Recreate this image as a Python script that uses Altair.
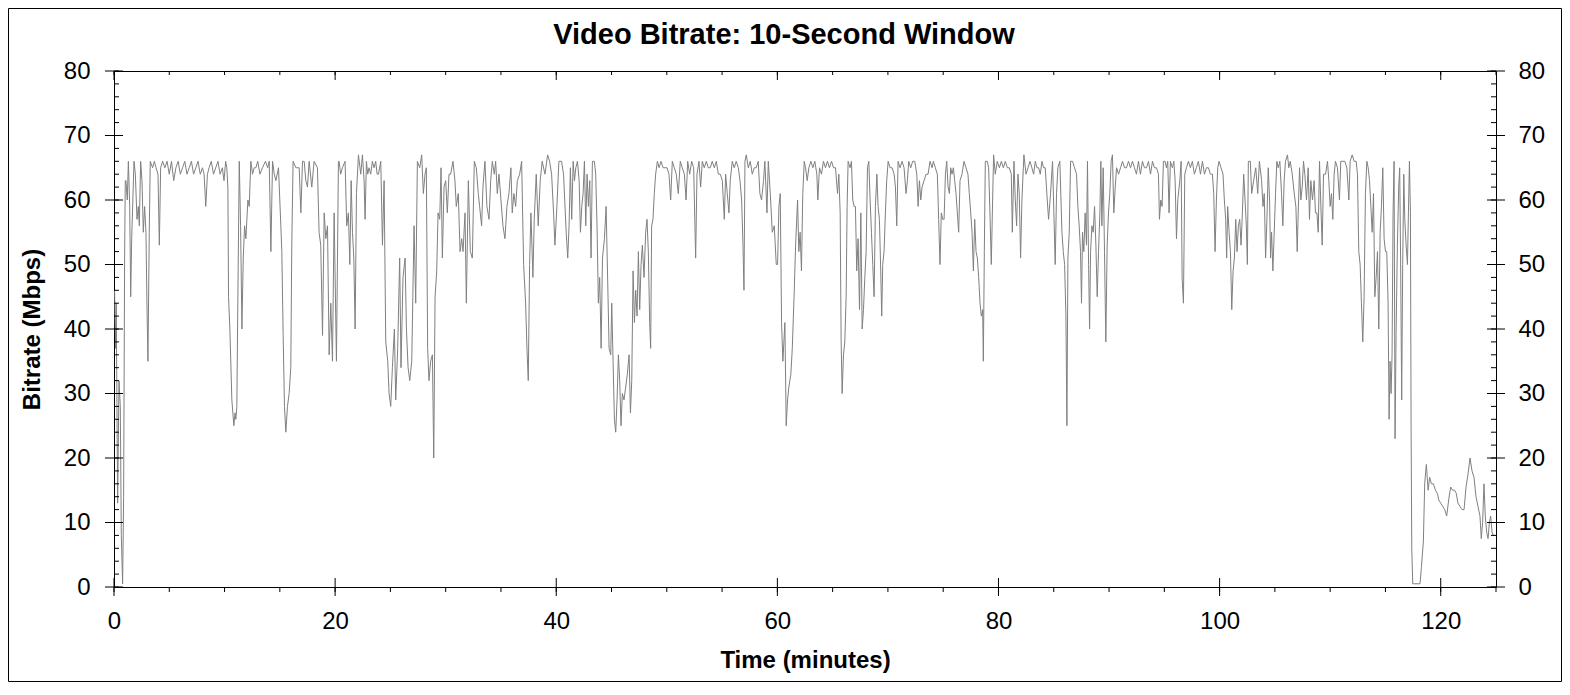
import altair as alt
import pandas as pd

# time in minutes, bitrate in Mbps (10-second window)
minutes = [
    0.05, 0.15, 0.2, 0.33, 0.45, 0.57, 0.66, 0.78, 0.87, 0.96, 1.02, 1.08, 1.2, 1.3, 1.42, 1.51, 1.6, 1.81, 1.93,
    2.08, 2.2, 2.29, 2.41, 2.53, 2.65, 2.77, 2.89, 2.98, 3.07, 3.19, 3.28, 3.49, 3.65, 3.8, 3.98, 4.1, 4.22, 4.4,
    4.6, 4.8, 5.0, 5.2, 5.4, 5.6, 5.8, 6.0, 6.2, 6.4, 6.6, 6.8, 7.0, 7.2, 7.4, 7.6, 7.8, 8.0, 8.15, 8.3, 8.45,
    8.6, 8.8, 9.0, 9.2, 9.4, 9.6, 9.8, 9.95, 10.1, 10.2,
    10.3, 10.36, 10.48, 10.66, 10.84, 10.95, 11.02, 11.11, 11.2, 11.33, 11.45, 11.57, 11.69, 11.81, 11.93, 12.11,
    12.23, 12.38, 12.53, 12.68, 12.83, 13.0, 13.2, 13.43, 13.7, 13.9, 14.04, 14.19, 14.34, 14.5, 14.64, 14.88,
    15.09, 15.18, 15.3, 15.42, 15.54, 15.69, 15.84, 15.99, 16.08, 16.2, 16.45, 16.75, 16.9, 17.05, 17.2, 17.35,
    17.5, 17.65, 17.89, 18.1, 18.4, 18.55, 18.7, 18.86, 19.01, 19.16, 19.31, 19.46, 19.61, 19.76, 19.91, 20.12,
    20.3,
    20.36, 20.5, 20.66, 20.9, 21.05, 21.2, 21.33, 21.45, 21.57, 21.69, 21.81, 21.93, 22.11, 22.32, 22.47, 22.62,
    22.71, 22.83, 22.95, 23.07, 23.22, 23.37, 23.52, 23.67, 23.8, 23.92, 24.13, 24.28, 24.43, 24.58, 24.76,
    24.88, 25.03, 25.18, 25.36, 25.48, 25.66, 25.84, 25.96, 26.14, 26.33, 26.45, 26.6, 26.75, 26.93, 27.14,
    27.29, 27.44, 27.65, 27.83, 27.98, 28.13, 28.25, 28.37, 28.49, 28.64, 28.8, 28.92, 29.04, 29.19, 29.31,
    29.46, 29.58, 29.7, 29.85, 30.0, 30.15, 30.3, 30.45, 30.66, 30.84, 30.96, 31.14, 31.3, 31.45, 31.57, 31.75,
    31.87, 32.05, 32.23, 32.41, 32.59, 32.77, 32.95, 33.07, 33.25, 33.37, 33.55, 33.73, 33.92, 34.07, 34.22,
    34.4, 34.52, 34.67, 34.82, 35.0, 35.18, 35.36, 35.54, 35.72, 35.9, 36.02, 36.17, 36.33, 36.48, 36.69, 36.87,
    37.05, 37.23, 37.35, 37.47, 37.59, 37.71, 37.89, 38.01, 38.19, 38.37, 38.55, 38.73, 38.98, 39.22, 39.4,
    39.58, 39.76, 39.88, 40.06, 40.24, 40.48, 40.66, 40.9,
    41.04, 41.16, 41.28, 41.4, 41.53, 41.65, 41.77, 41.92, 42.07, 42.19, 42.31, 42.43, 42.55, 42.67, 42.79,
    42.91, 43.03, 43.15, 43.27, 43.45, 43.57, 43.69, 43.81, 43.93, 44.06, 44.18, 44.36, 44.51, 44.66, 44.78,
    44.93, 45.02, 45.14, 45.26, 45.38, 45.5, 45.62, 45.74, 45.86, 45.98, 46.13, 46.28, 46.43, 46.59, 46.71,
    46.83, 46.95, 47.07, 47.19, 47.31, 47.43, 47.55, 47.67, 47.79, 47.94, 48.09, 48.21, 48.33, 48.45, 48.54,
    48.63, 48.75, 48.87, 48.99, 49.15, 49.3, 49.48, 49.66, 49.84, 50.02, 50.2, 50.35, 50.5, 50.68, 50.86,
    51.04, 51.22, 51.4, 51.59, 51.74, 51.89, 52.07, 52.25, 52.43, 52.61, 52.73, 52.91, 53.06, 53.21, 53.39,
    53.57, 53.75, 53.93, 54.11, 54.3, 54.48, 54.66, 54.84, 55.02, 55.2, 55.32, 55.47, 55.62, 55.74, 55.92,
    56.1, 56.28, 56.47, 56.62, 56.77, 56.89, 56.98, 57.07, 57.19, 57.37, 57.55, 57.73, 57.91, 58.09, 58.27,
    58.42, 58.57, 58.75, 58.87, 59.06, 59.18, 59.36, 59.54, 59.72, 59.9, 60.02, 60.14, 60.26, 60.38, 60.5,
    60.68, 60.8, 60.92, 61.04, 61.22, 61.35, 61.53, 61.65, 61.83, 61.94, 62.06, 62.18, 62.3, 62.43,
    62.55, 62.7, 62.85, 63.03, 63.21, 63.39, 63.57, 63.66, 63.81, 63.99, 64.17, 64.35, 64.53, 64.71, 64.9,
    65.08, 65.26, 65.44, 65.56, 65.68, 65.77, 65.86, 65.98, 66.1, 66.22, 66.31, 66.4, 66.58, 66.7, 66.82,
    66.94, 67.06, 67.18, 67.3, 67.43, 67.55, 67.67, 67.79, 67.91, 68.03, 68.15, 68.27, 68.39, 68.51, 68.63,
    68.75, 68.87, 69.0, 69.11, 69.23, 69.35, 69.44, 69.53, 69.65, 69.77, 69.89, 70.02, 70.2, 70.38, 70.56,
    70.68, 70.8, 70.92, 71.1, 71.28, 71.46, 71.64, 71.76, 71.88, 72.06, 72.24, 72.43, 72.61, 72.73, 72.85,
    72.97, 73.09, 73.27, 73.45, 73.63, 73.81, 73.99, 74.11, 74.29, 74.47, 74.59, 74.71, 74.83, 74.96, 75.08,
    75.2, 75.32, 75.44, 75.56, 75.68, 75.8, 75.92, 76.04, 76.16, 76.28, 76.4, 76.52, 76.7, 76.88, 77.06,
    77.24, 77.36, 77.49, 77.61, 77.73, 77.85, 77.97, 78.09, 78.21, 78.33, 78.45, 78.57, 78.63, 78.72, 78.81,
    78.99, 79.11, 79.23, 79.35, 79.47, 79.56, 79.71, 79.89, 80.08, 80.26, 80.44, 80.62, 80.8, 80.98, 81.16,
    81.25, 81.4, 81.52, 81.64, 81.76, 81.88, 82.0, 82.12, 82.3, 82.49, 82.67,
    82.85, 83.02, 83.18, 83.33, 83.48, 83.63, 83.78, 83.93, 84.08, 84.23, 84.41, 84.53, 84.71, 84.89, 85.01,
    85.13, 85.25, 85.37, 85.55, 85.74, 85.86, 85.98, 86.1, 86.19, 86.28, 86.4, 86.52, 86.7, 86.88, 87.06,
    87.18, 87.3, 87.42, 87.51, 87.6, 87.72, 87.84, 87.96, 88.05, 88.15, 88.24, 88.33, 88.45, 88.57, 88.69,
    88.81, 88.93, 89.05, 89.17, 89.26, 89.35, 89.47, 89.59, 89.71, 89.83, 89.95, 90.07, 90.19, 90.31, 90.43,
    90.56, 90.68, 90.86, 91.04, 91.22, 91.4, 91.58, 91.76, 91.94, 92.12, 92.3, 92.48, 92.66, 92.84, 93.02,
    93.2, 93.39, 93.57, 93.75, 93.93, 94.11, 94.29, 94.47, 94.56, 94.68, 94.8, 94.92, 95.07, 95.19, 95.31,
    95.43, 95.55, 95.73, 95.86, 95.98, 96.1, 96.22, 96.4, 96.52, 96.61, 96.73, 96.85, 97.0, 97.18, 97.36,
    97.54, 97.72, 97.9, 98.08, 98.27, 98.45, 98.63, 98.81, 98.99, 99.17, 99.35, 99.47, 99.59, 99.71, 99.83,
    99.95, 100.13, 100.31, 100.43, 100.55, 100.64, 100.73, 100.86, 100.98, 101.1, 101.22, 101.34, 101.46,
    101.58, 101.7, 101.82, 101.94, 102.06, 102.18, 102.3, 102.42, 102.51, 102.6, 102.78, 102.9, 103.08,
    103.27, 103.45, 103.6,
    103.67, 103.8, 103.92, 104.04, 104.16, 104.28, 104.4, 104.52, 104.61, 104.7, 104.82, 104.94, 105.06,
    105.18, 105.3, 105.45, 105.6, 105.72, 105.84, 105.96, 106.14, 106.26, 106.39, 106.57, 106.75, 106.9,
    107.02, 107.11, 107.23, 107.35, 107.47, 107.59, 107.71, 107.86, 108.01, 108.13, 108.25, 108.4, 108.55,
    108.67, 108.8, 108.92, 109.04, 109.16, 109.28, 109.4, 109.58, 109.76, 109.88, 110.0, 110.12, 110.24,
    110.36, 110.48, 110.66, 110.84, 110.96, 111.14, 111.33, 111.51, 111.69, 111.81, 111.99, 112.17, 112.35,
    112.47, 112.59, 112.71, 112.83, 112.95, 113.07, 113.19, 113.32, 113.44, 113.56, 113.68, 113.8, 113.92,
    114.04, 114.16, 114.28, 114.4, 114.52, 114.64, 114.76, 114.88, 115.0, 115.12, 115.24, 115.33, 115.42,
    115.51, 115.6, 115.69, 115.78, 115.87, 115.96, 116.08, 116.2, 116.29, 116.38, 116.47, 116.56, 116.66,
    116.75, 116.87, 116.99, 117.08, 117.17, 117.26, 117.32, 117.38, 117.47, 117.65, 117.95, 118.13, 118.25,
    118.43, 118.55, 118.7, 118.86, 119.0, 119.16, 119.34, 119.52, 119.7, 119.82, 120.0, 120.18, 120.36,
    120.54, 120.72, 120.9, 121.08, 121.26, 121.41, 121.56, 121.74, 121.92, 122.11, 122.29, 122.47, 122.65,
    122.83, 123.01, 123.19, 123.37, 123.55, 123.67, 123.79, 123.91, 124.03, 124.16, 124.28, 124.4, 124.52,
    124.64, 124.76, 124.85,
]
mbps = [
    46, 37, 44, 13, 32, 28, 8, 0.5, 14, 51, 63, 63, 60, 66, 59, 45, 54, 66, 64,
    57, 59, 56, 66, 63, 55, 59, 55, 44, 35, 55, 66, 65, 66, 65, 64, 53, 65, 66,
    65, 66, 64, 66, 63, 65, 66, 64, 65, 66, 64, 65, 66, 64, 65, 66, 64, 65, 64, 59, 64,
    65, 66, 64, 65, 66, 64, 65, 63, 66, 65,
    62, 45, 40, 29, 25, 27, 26, 28, 44, 66, 56, 40, 51, 56, 54, 60,
    59, 66, 64, 65, 65, 66, 64, 65, 66, 65, 66, 52, 66, 64, 63, 65,
    56, 52, 39, 28, 24, 28, 30, 34, 53, 66, 65, 65, 58, 66, 66, 63,
    62, 66, 62, 66, 65, 55, 53, 39, 58, 54, 56, 36, 44, 35, 58, 35,
    66,
    66, 64, 65, 66, 56, 58, 50, 63, 55, 51, 40, 61, 67, 64, 67, 63,
    57, 66, 64, 65, 64, 66, 65, 66, 64, 64, 66, 53, 63, 38, 35,
    30, 28, 34, 40, 29, 37, 51, 34, 48, 51, 40, 34, 32, 35, 56,
    44, 66, 65, 67, 61, 64, 65, 37, 32, 35, 36, 20, 45, 49, 58,
    57, 65, 51, 62, 63, 58, 64, 64, 66, 63, 59, 61, 52, 54, 52, 58,
    44, 63, 52, 51, 66, 65, 61, 59, 56, 62, 66, 59, 57, 63, 66,
    64, 66, 61, 64, 60, 56, 54, 59, 61, 65, 58, 61, 59, 63, 64, 66,
    50, 44, 37, 32, 50, 58, 48, 57, 64, 56, 63, 66, 64, 67, 66,
    64, 58, 53, 59, 66, 66, 64, 55,
    51, 56, 65, 57, 66, 63, 65, 66, 63, 55, 59, 61, 66, 56, 64,
    59, 63, 51, 66, 66, 64, 56, 44, 48, 37, 51, 54, 59, 47, 37,
    36, 44, 35, 26, 24, 29, 36, 32, 25, 30, 29, 31, 33, 36, 27,
    32, 49, 41, 46, 42, 52, 43, 50, 53, 48, 55, 57, 52, 41, 37,
    56, 57, 61, 64, 66, 65, 66, 65, 65, 65, 64, 60, 66, 65, 64,
    61, 66, 65, 64, 60, 66, 64, 66, 65, 51, 64, 66, 62, 66, 65,
    66, 65, 65, 66, 65, 66, 64, 64, 63, 57, 64, 61, 58, 63, 66,
    65, 66, 65, 63, 60, 53, 46, 66, 67, 65, 66, 64, 65, 65, 66,
    61, 60, 63, 66, 58, 66, 61, 55, 56, 50, 50, 59, 61, 41, 35,
    41, 25, 29, 31, 33, 37, 46, 53, 60, 52, 55, 49, 61, 66,
    65, 63, 65, 66, 65, 66, 64, 60, 65, 64, 66, 65, 66, 65, 66,
    65, 65, 61, 64, 58, 38, 30, 36, 38, 45, 59, 66, 65, 66, 60,
    59, 59, 49, 54, 43, 58, 40, 43, 48, 52, 65, 66, 60, 55, 50,
    45, 59, 64, 59, 57, 49, 42, 50, 52, 58, 63, 66, 65, 65, 64,
    62, 56, 66, 65, 66, 65, 61, 63, 66, 65, 66, 66, 64, 59, 63,
    60, 62, 63, 64, 64, 66, 65, 66, 65, 64, 57, 50, 58, 57, 57,
    64, 66, 62, 61, 65, 64, 65, 63, 61, 58, 55, 63, 64, 66, 65,
    64, 61, 58, 55, 49, 57, 52, 51, 48, 44, 42, 43, 35, 52, 66,
    66, 65, 58, 50, 60, 67, 64, 66, 65, 66, 65, 66, 65, 65, 64,
    55, 66, 60, 56, 64, 61, 51, 60, 67, 64, 65,
    66, 65, 64, 66, 65, 65, 64, 66, 65, 65, 60, 57, 61, 66, 58,
    50, 61, 65, 66, 55, 52, 50, 42, 25, 51, 55, 66, 66, 65, 64,
    59, 56, 52, 44, 55, 52, 58, 53, 66, 50, 40, 52, 56, 55, 59,
    53, 45, 52, 58, 66, 56, 65, 52, 38, 53, 58, 61, 66, 67, 58,
    62, 65, 64, 65, 66, 65, 65, 66, 65, 66, 65, 64, 66, 64, 66,
    65, 65, 66, 64, 66, 65, 65, 64, 57, 60, 59, 66, 66, 65, 66,
    58, 66, 65, 66, 63, 54, 60, 63, 66, 48, 44, 64, 65, 66, 65,
    66, 64, 65, 66, 64, 66, 64, 65, 65, 64, 64, 61, 52, 60, 65,
    66, 65, 64, 60, 57, 51, 59, 55, 52, 43, 49, 51, 57,
    52, 56, 57, 53, 58, 64, 60, 56, 50, 66, 66, 61, 63,
    65, 61, 66,
    65, 63, 59, 61, 51, 57, 65, 60, 51, 55, 49, 55, 61,
    66, 65, 66, 61, 56, 63, 66, 67, 65, 66, 64, 61, 59,
    52, 58, 65, 60, 62, 66, 64, 60, 65, 57, 63, 60, 63,
    58, 58, 55, 66, 59, 53, 64, 64, 66, 63, 59, 61, 57,
    64, 66, 65, 60, 66, 66, 66, 65, 60, 66, 67, 66, 66,
    64, 52, 50, 44, 38, 45, 61, 66, 65, 63, 59, 55, 61,
    45, 48, 52, 40, 55, 59, 65, 54, 52, 52, 44, 26, 35,
    30, 36, 58, 66, 23, 39, 53, 62, 65, 49, 29, 50, 64,
    57, 53, 50, 58, 66, 58, 25, 6, 0.5, 0.5, 0.5, 0.5, 3,
    7, 16, 19, 15, 17, 16, 16, 15, 14.5, 13.5, 13, 12.5, 12,
    11, 13.5, 15.5, 15, 15, 14.5, 13, 12.5, 12, 12, 15.5, 17.5, 20,
    18, 17, 14, 12.5, 11, 7.5, 10, 16, 11, 8.5, 7.5, 10, 11,
    8.5, 8, 8,
]

y_major = [0, 10, 20, 30, 40, 50, 60, 70, 80]
y_minor = [0, 2, 4, 6, 8, 10, 12, 14, 16, 18, 20, 22, 24, 26, 28, 30, 32, 34, 36, 38, 40,
           42, 44, 46, 48, 50, 52, 54, 56, 58, 60, 62, 64, 66, 68, 70, 72, 74, 76, 78, 80]
x_major = [0, 20, 40, 60, 80, 100, 120]
x_minor = [0, 5, 10, 15, 20, 25, 30, 35, 40, 45, 50, 55, 60, 65, 70, 75, 80, 85, 90, 95,
           100, 105, 110, 115, 120, 125]

W, H = 1382, 516
FONT = "Liberation Sans"

df = pd.DataFrame({"minutes": minutes, "mbps": mbps})
ymaj = pd.DataFrame({"v": y_major})
ymin = pd.DataFrame({"v": y_minor})
xmaj = pd.DataFrame({"t": x_major})
xmin = pd.DataFrame({"t": x_minor})

x_scale = alt.Scale(domain=[0, 125], nice=False, zero=False)
y_scale = alt.Scale(domain=[0, 80], nice=False)

line = alt.Chart(df).mark_line(color="#808080", strokeWidth=1, clip=True).encode(
    x=alt.X("minutes:Q", scale=x_scale,
            axis=alt.Axis(orient="bottom", values=x_major, title="Time (minutes)", ticks=False,
                          domain=False, grid=False, labelFlush=False, labelPadding=22, titlePadding=15)),
    y=alt.Y("mbps:Q", scale=y_scale,
            axis=alt.Axis(values=y_major, title="Bitrate (Mbps)", ticks=False, domain=False, grid=False,
                          labelFlush=False, labelPadding=24, titlePadding=19)),
)

# tick marks: majors cross the frame, minors sit on one side
right_major = alt.Chart(ymaj).mark_rule(color="black").encode(
    y=alt.Y("v:Q", scale=y_scale,
            axis=alt.Axis(orient="right", values=y_major, title=None, ticks=False, domain=False,
                          grid=False, labelFlush=False, labelPadding=22)),
    x=alt.value(W - 9), x2=alt.value(W + 9),
)
left_major = alt.Chart(ymaj).mark_rule(color="black").encode(
    y=alt.Y("v:Q", scale=y_scale, axis=None), x=alt.value(-9), x2=alt.value(9))
left_minor = alt.Chart(ymin).mark_rule(color="black").encode(
    y=alt.Y("v:Q", scale=y_scale, axis=None), x=alt.value(0), x2=alt.value(5))
right_minor = alt.Chart(ymin).mark_rule(color="black").encode(
    y=alt.Y("v:Q", scale=y_scale, axis=None), x=alt.value(W - 5), x2=alt.value(W))
bottom_major = alt.Chart(xmaj).mark_rule(color="black").encode(
    x=alt.X("t:Q", scale=x_scale, axis=None), y=alt.value(H - 9), y2=alt.value(H + 9))
top_major = alt.Chart(xmaj).mark_rule(color="black").encode(
    x=alt.X("t:Q", scale=x_scale, axis=None), y=alt.value(0), y2=alt.value(9))
bottom_minor = alt.Chart(xmin).mark_rule(color="black").encode(
    x=alt.X("t:Q", scale=x_scale, axis=None), y=alt.value(H), y2=alt.value(H + 5))
top_minor = alt.Chart(xmin).mark_rule(color="black").encode(
    x=alt.X("t:Q", scale=x_scale, axis=None), y=alt.value(0), y2=alt.value(4))

frame = alt.Chart(pd.DataFrame({"a": [0]})).mark_rect(filled=False, stroke="black", strokeWidth=1).encode(
    x=alt.value(-105.5), x2=alt.value(W + 65.5), y=alt.value(-62.5), y2=alt.value(H + 94.5))

chart = (
    alt.layer(line, bottom_major, right_major, left_major, left_minor, right_minor,
              top_major, bottom_minor, top_minor, frame)
    .resolve_axis(x="independent", y="independent")
    .properties(
        width=W,
        height=H,
        autosize=alt.AutoSizeParams(type="none"),
        padding={"left": 106, "top": 63, "right": 66, "bottom": 95},
        title=alt.TitleParams("Video Bitrate: 10-Second Window", font=FONT, fontSize=29, fontWeight="bold",
                              color="black", anchor="middle", offset=0, baseline="alphabetic", dx=-21, dy=65),
    )
    .configure_view(stroke="black", strokeWidth=1)
    .configure_axis(labelFont=FONT, titleFont=FONT, labelFontSize=24, titleFontSize=24,
                    labelColor="black", titleColor="black", titleFontWeight="bold")
)

chart.save("out.html", embed_options={"renderer": "svg", "actions": False})
